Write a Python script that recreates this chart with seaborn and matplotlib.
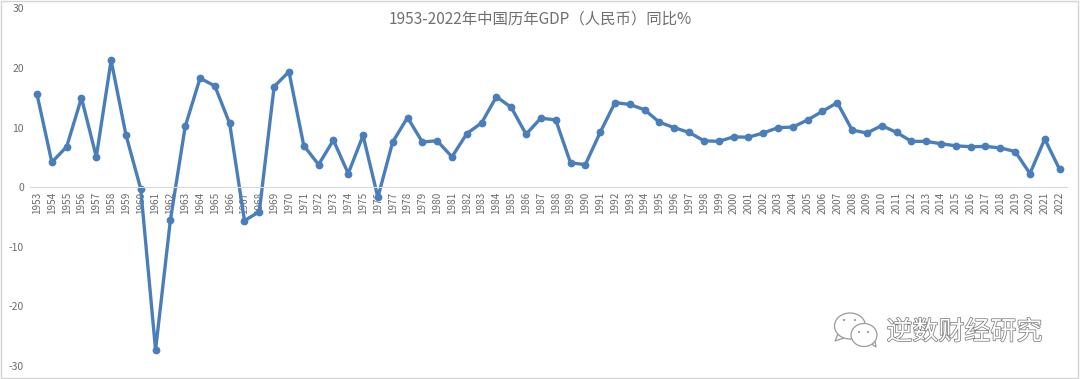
import matplotlib
matplotlib.use("Agg")
import matplotlib.pyplot as plt
import matplotlib.patheffects as pe
from matplotlib.patches import Ellipse, Polygon, Rectangle
import pandas as pd
import seaborn as sns

# Datos
years = list(range(1953, 2023))
gdp_yoy = [
    15.6, 4.2, 6.8, 15.0, 5.1, 21.3, 8.8, -0.3, -27.3, -5.5,
    10.2, 18.3, 17.0, 10.7, -5.6, -4.1, 16.9, 19.4, 7.0, 3.8,
    7.9, 2.3, 8.7, -1.7, 7.6, 11.7, 7.6, 7.8, 5.1, 9.0,
    10.8, 15.2, 13.4, 8.9, 11.6, 11.3, 4.1, 3.8, 9.2, 14.2,
    13.9, 13.0, 10.9, 10.0, 9.2, 7.8, 7.7, 8.45, 8.4, 9.1,
    10.0, 10.1, 11.3, 12.75, 14.2, 9.6, 9.1, 10.35, 9.2, 7.7,
    7.7, 7.3, 6.95, 6.8, 6.85, 6.6, 6.0, 2.3, 8.1, 3.0,
]
y_ticks = [30, 20, 10, 0, -10, -20, -30]
title = "1953-2022年中国历年GDP（人民币）同比%"
watermark = "逆数财经研究"

BLUE = "#4a7ebb"
GRAY = "#6b6b6b"

sns.set_style("white")
plt.rcParams["font.family"] = ["Noto Sans CJK SC", "DejaVu Sans"]
plt.rcParams["axes.unicode_minus"] = False

df = pd.DataFrame({"year": years, "yoy": gdp_yoy})

W, H = 1080, 379
fig = plt.figure(figsize=(W / 100, H / 100), dpi=100)
ax = fig.add_axes([29.6 / W, 1 - 366 / H, (1067 - 29.6) / W, (366 - 8.5) / H])

sns.lineplot(data=df, x="year", y="yoy", ax=ax, color=BLUE, linewidth=2.4,
             marker="o", markersize=5.6, markeredgecolor=BLUE, markeredgewidth=0)

ax.set_xlim(1952.5, 2022.5)
ax.set_ylim(-30, 30)
ax.set_yticks(y_ticks)
ax.set_xticks(years)
ax.set_xticklabels([str(y) for y in years])
ax.set_xlabel("")
ax.set_ylabel("")
ax.tick_params(axis="x", length=0, pad=3, labelsize=7.2, labelcolor=GRAY, labelrotation=90)
ax.tick_params(axis="y", length=0, pad=4, labelsize=7.5, labelcolor=GRAY)

for s in ["top", "right", "left"]:
    ax.spines[s].set_visible(False)
ax.spines["bottom"].set_position(("data", 0))
ax.spines["bottom"].set_color("#d9d9d9")
ax.spines["bottom"].set_linewidth(0.8)
ax.patch.set_alpha(0)

# Capa en pixeles para marco, titulo y marca de agua
top = fig.add_axes([0, 0, 1, 1], zorder=5)
top.set_xlim(0, W)
top.set_ylim(H, 0)
top.axis("off")
top.patch.set_alpha(0)
top.add_patch(Rectangle((1, 0.5), 1077, 377.5, fill=False, ec="#d4d4d4", lw=1))

top.text(540, 19, title, ha="center", va="center", fontsize=11.1, color="#707070")

top.text(964.5, 332, watermark, ha="center", va="center", fontsize=18.7, color="white",
         path_effects=[pe.withStroke(linewidth=1.1, foreground="#7f7f7f")])

# Icono de la marca de agua
for cx, cy, w, h, tail in [
    (850, 326, 31, 26, [(838, 334), (835, 341), (844, 338)]),
    (864, 335, 26, 23, [(870, 343), (876, 347), (875, 341)]),
]:
    top.add_patch(Polygon(tail, closed=True, fc="white", ec="#9a9a9a", lw=0.9))
    top.add_patch(Ellipse((cx, cy), w, h, fc="white", ec="#9a9a9a", lw=0.9))
for ex, ey in [(844, 320), (855, 320), (859, 332), (868, 332)]:
    top.add_patch(Ellipse((ex, ey), 2.2, 2.2, fc="#9a9a9a", ec="none"))

fig.savefig("out.png", dpi=100)
